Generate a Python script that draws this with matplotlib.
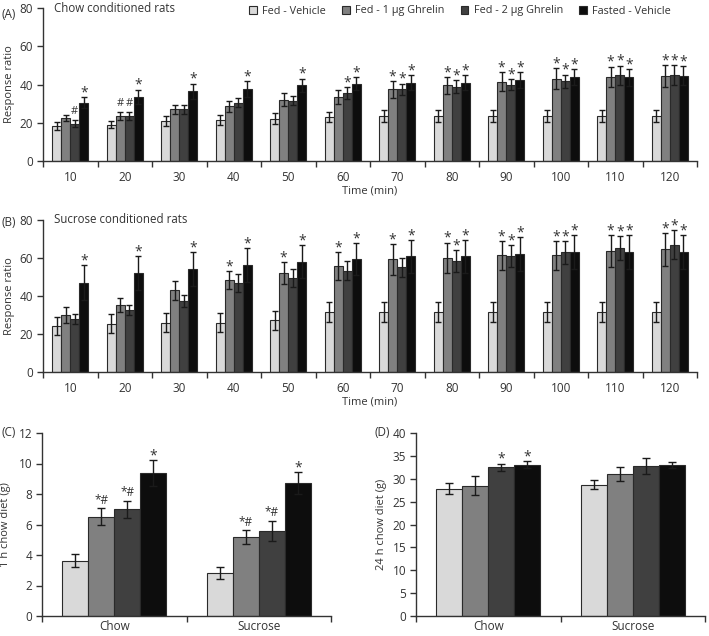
import numpy as np
import matplotlib
matplotlib.use("Agg")
import matplotlib.pyplot as plt
from matplotlib.patches import Patch

plt.rcParams["font.family"] = ["Open Sans", "DejaVu Sans"]
plt.rcParams["text.color"] = "#333333"
plt.rcParams["axes.labelcolor"] = "#333333"
plt.rcParams["xtick.color"] = "#333333"
plt.rcParams["ytick.color"] = "#333333"

# --- data ---
series = ["Fed - Vehicle", "Fed - 1 µg Ghrelin", "Fed - 2 µg Ghrelin", "Fasted - Vehicle"]
colors = ["#d9d9d9", "#808080", "#404040", "#0d0d0d"]
times = [10, 20, 30, 40, 50, 60, 70, 80, 90, 100, 110, 120]

# (A) chow conditioned rats: mean / sem per series
a_veh = [18.3, 19.0, 20.8, 21.3, 22.2, 23.0, 23.6, 23.6, 23.6, 23.6, 23.6, 23.6]
a_veh_err = [2.0, 2.0, 2.5, 2.5, 2.8, 2.8, 3.3, 3.3, 3.3, 3.3, 3.3, 3.3]
a_g1 = [22.4, 23.6, 27.0, 28.6, 32.0, 33.5, 37.5, 39.5, 41.4, 43.0, 44.0, 44.5]
a_g1_err = [1.5, 2.0, 2.5, 2.8, 3.5, 3.8, 4.4, 4.5, 4.9, 5.4, 5.4, 5.6]
a_g2 = [19.6, 23.6, 27.0, 30.4, 31.6, 35.6, 37.5, 38.8, 40.0, 41.7, 44.9, 45.0]
a_g2_err = [1.8, 2.0, 2.2, 2.3, 2.3, 3.0, 3.0, 3.4, 3.0, 3.5, 5.0, 5.0]
a_fast = [30.5, 33.5, 36.5, 37.7, 39.6, 40.5, 41.0, 41.0, 42.3, 43.7, 43.7, 44.5]
a_fast_err = [3.0, 3.8, 4.0, 4.0, 3.5, 3.5, 3.8, 3.8, 4.0, 4.2, 4.4, 5.0]
a_marks = [["", "", "#", "*"], ["", "#", "#", "*"], ["", "", "", "*"], ["", "", "", "*"],
           ["", "", "", "*"], ["", "", "*", "*"]] + [["", "*", "*", "*"]] * 6

# (B) sucrose conditioned rats
b_veh = [24.1, 25.5, 26.0, 26.0, 27.3, 31.5, 31.8, 31.8, 31.8, 31.8, 31.8, 31.8]
b_veh_err = [4.7, 5.0, 5.0, 5.0, 5.0, 5.3, 5.3, 5.3, 5.3, 5.3, 5.3, 5.3]
b_g1 = [30.2, 35.5, 43.0, 48.2, 52.0, 55.7, 59.3, 60.1, 61.4, 61.4, 63.6, 64.5]
b_g1_err = [4.2, 3.7, 5.0, 4.7, 5.8, 7.4, 8.0, 8.0, 7.7, 7.7, 8.6, 8.8]
b_g2 = [28.1, 32.5, 37.3, 46.8, 49.4, 53.3, 55.2, 58.4, 60.8, 63.0, 65.2, 67.0]
b_g2_err = [2.6, 2.6, 3.2, 4.7, 4.6, 4.9, 5.0, 5.6, 5.8, 6.0, 6.5, 7.6]
b_fast = [47.1, 52.2, 54.3, 56.4, 58.0, 59.3, 60.8, 60.8, 62.2, 63.0, 63.0, 63.0]
b_fast_err = [9.0, 8.8, 9.0, 9.0, 8.6, 8.4, 8.6, 8.6, 9.0, 9.0, 9.0, 9.0]
b_marks = [["", "", "", "*"]] * 3 + [["", "*", "", "*"]] * 4 + [["", "*", "*", "*"]] * 5

# (C) 1 h and (D) 24 h chow intake
diets = ["Chow", "Sucrose"]
c_mean = [[3.63, 2.82], [6.5, 5.18], [7.0, 5.6], [9.4, 8.72]]
c_err = [[0.44, 0.42], [0.55, 0.48], [0.57, 0.66], [0.85, 0.72]]
c_marks = [["", "*#", "*#", "*"], ["", "*#", "*#", "*"]]
d_mean = [[27.8, 28.7], [28.5, 31.1], [32.5, 32.8], [33.1, 33.0]]
d_err = [[1.2, 1.0], [2.1, 1.5], [0.8, 1.8], [0.8, 0.6]]
d_marks = [["", "", "*", "*"], ["", "", "", ""]]

W, H = 709, 636
fig = plt.figure(figsize=(W / 100, H / 100), dpi=100)


def px_axes(x0, x1, ytop, ybot):
    return fig.add_axes([x0 / W, 1 - ybot / H, (x1 - x0) / W, (ybot - ytop) / H])


def draw_bars(ax, means, errs, marks, labels, width, capsize, xpad):
    n = len(labels)
    centers = np.arange(n) + 0.5
    for k in range(4):
        x = centers + (k - 1.5) * width
        ax.bar(x, means[k], width=width, color=colors[k], edgecolor="#2a2a2a",
               linewidth=0.8, zorder=2)
        ax.errorbar(x, means[k], yerr=errs[k], fmt="none", ecolor="#1a1a1a",
                    elinewidth=1.0, capsize=capsize, capthick=1.0, zorder=3)
        for i in range(n):
            m = marks[i][k]
            if not m:
                continue
            top = means[k][i] + errs[k][i]
            if m == "*":
                off, fs = 0.5, 10
            elif m == "#":
                off, fs = 4.5, 8
            else:
                off, fs = 3, 8.5
            ax.annotate(m, (x[i], top), xytext=(0, off), textcoords="offset points",
                        ha="center", va="baseline", fontsize=fs)
    ax.set_xlim(0, n)
    ax.set_xticks(centers)
    ax.set_xticklabels(labels)
    ax.set_xticks(np.arange(n + 1), minor=True)
    ax.tick_params(axis="x", which="major", length=0, pad=xpad, labelsize=8.5)
    ax.tick_params(axis="x", which="minor", length=4, width=1, direction="out")
    ax.tick_params(axis="y", length=4, width=1, labelsize=8.5, pad=3)
    for s in ["top", "right"]:
        ax.spines[s].set_visible(False)
    for s in ["left", "bottom"]:
        ax.spines[s].set_linewidth(1.0)
        ax.spines[s].set_color("#333333")


# (A)
axA = px_axes(43, 697, 8, 161)
draw_bars(axA, [a_veh, a_g1, a_g2, a_fast], [a_veh_err, a_g1_err, a_g2_err, a_fast_err],
          a_marks, [str(t) for t in times], 0.167, 2.5, 7)
axA.set_ylim(0, 80)
axA.set_yticks([0, 20, 40, 60, 80])
axA.set_ylabel("Response ratio", fontsize=8)
axA.yaxis.set_label_coords(-0.043, 0.5)
axA.set_xlabel("Time (min)", fontsize=8, labelpad=1)
axA.text(0.017, 1.0, "Chow conditioned rats", transform=axA.transAxes, fontsize=8.3, va="center")

# (B)
axB = px_axes(43, 697, 220, 372)
draw_bars(axB, [b_veh, b_g1, b_g2, b_fast], [b_veh_err, b_g1_err, b_g2_err, b_fast_err],
          b_marks, [str(t) for t in times], 0.167, 2.5, 7)
axB.set_ylim(0, 80)
axB.set_yticks([0, 20, 40, 60, 80])
axB.set_ylabel("Response ratio", fontsize=8)
axB.yaxis.set_label_coords(-0.043, 0.5)
axB.set_xlabel("Time (min)", fontsize=8, labelpad=1)
axB.text(0.017, 1.0, "Sucrose conditioned rats", transform=axB.transAxes, fontsize=8.3, va="center")

# (C)
axC = px_axes(42, 331, 433, 616)
draw_bars(axC, c_mean, c_err, c_marks, diets, 0.18, 3, 3)
axC.set_ylim(0, 12)
axC.set_yticks(range(0, 13, 2))
axC.set_ylabel("1 h chow diet (g)", fontsize=8)
axC.yaxis.set_label_coords(-0.107, 0.5)

# (D)
axD = px_axes(416, 705, 433, 616)
draw_bars(axD, d_mean, d_err, d_marks, diets, 0.18, 3, 3)
axD.set_ylim(0, 40)
axD.set_yticks(range(0, 41, 5))
axD.set_ylabel("24 h chow diet (g)", fontsize=8)
axD.yaxis.set_label_coords(-0.100, 0.5)

# panel letters
for txt, x, y in [("(A)", 2, 15), ("(B)", 2, 222), ("(C)", 2, 432), ("(D)", 375, 432)]:
    fig.text(x / W, 1 - y / H, txt, fontsize=8.5, va="center", ha="left")

handles = [Patch(facecolor=c, edgecolor="#2a2a2a", linewidth=0.8) for c in colors]
fig.legend(handles, series, loc="center", bbox_to_anchor=(460 / W, 1 - 11 / H), ncol=4,
           frameon=False, fontsize=7.8, handlelength=0.7, handleheight=0.7,
           handletextpad=0.5, columnspacing=1.5, borderaxespad=0)

fig.savefig("out.png", dpi=100)
